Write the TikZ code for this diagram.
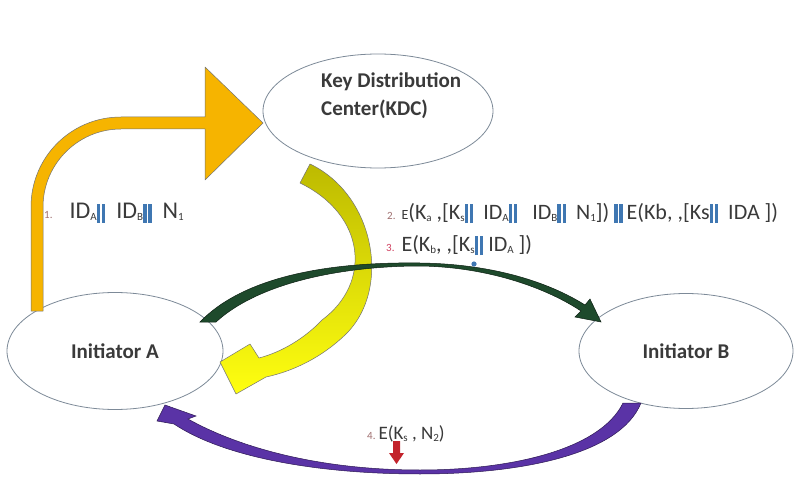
\documentclass[tikz,border=0pt]{standalone}
\usepackage{fontspec}
\setmainfont{Carlito}
\usetikzlibrary{shapes.geometric}
\definecolor{ellline}{HTML}{7D8A98}
\definecolor{orangefill}{HTML}{F6B400}
\definecolor{yeltop}{HTML}{BDBA00}
\definecolor{yelbot}{HTML}{FFFF10}
\definecolor{greenfill}{HTML}{1E4A2C}
\definecolor{purplefill}{HTML}{5A33A6}
\definecolor{redarrow}{HTML}{C3232B}
\definecolor{barblue}{HTML}{3F77B2}
\definecolor{txtgray}{HTML}{3A3A3A}
\definecolor{numcol}{HTML}{A07070}
\definecolor{numred}{HTML}{D04060}
\newcommand\vbars{\textcolor{barblue}{\rule[-4pt]{3.6pt}{19pt}\hspace{1.5pt}\rule[-4pt]{3.6pt}{19pt}}}
\newcommand\sbs[1]{\raisebox{-2pt}{\fontsize{11}{11}\selectfont #1}}
\newcommand\numsm[2]{{\fontsize{11}{11}\selectfont\textcolor{#1}{#2}}}
\tikzset{
  party/.style={ellipse, draw=ellline, line width=0.8pt, fill=white, inner sep=0pt},
  ptext/.style={font=\fontsize{21}{28}\selectfont\bfseries, text=txtgray},
  lbl/.style={font=\fontsize{22}{24}\selectfont, text=txtgray, inner sep=0pt, anchor=west},
  blockarrow/.style={draw=black!55, line width=0.5pt, line join=round}
}
\begin{document}
\begin{tikzpicture}[x=1pt,y=-1pt]
\useasboundingbox[fill=white] (0,0) rectangle (796,492);

% nodes
\node[party, minimum width=230pt, minimum height=114pt] (kdc) at (378,111) {};
\node[ptext, align=left, anchor=north west, inner sep=0pt] (kdctext) at (321,73) {Key Distribution\\Center(KDC)};
\node[party, minimum width=216pt, minimum height=117pt] (a) at (115,351) {};
\node[ptext] (atext) at (a.center) {Initiator A};
\node[party, minimum width=214pt, minimum height=115pt] (b) at (686,351) {};
\node[ptext] (btext) at (b.center) {Initiator B};

% 1: orange bent arrow A -> KDC
\filldraw[blockarrow, fill=orangefill]
  (31,311) -- (31,207) .. controls (31,157) and (71,117) .. (121,117) -- (205,117)
  -- (205,67) -- (263,123) -- (205,180) -- (205,129) -- (121,129)
  .. controls (78,129) and (43,164) .. (43,207) -- (43,311) -- cycle;

% 2: yellow curved arrow KDC -> A
\shadedraw[blockarrow, top color=yeltop, bottom color=yelbot]
  (310,164) .. controls (375,195) and (392,290) .. (345,335)
  .. controls (322,357) and (294,371) .. (266,377)
  -- (236,394) -- (220,362) -- (250,344) -- (259,358)
  .. controls (282,352) and (305,338) .. (322,320)
  .. controls (372,283) and (366,215) .. (300,183) -- cycle;

% 3: dark green arc A -> B
\filldraw[draw=black!60!greenfill, line width=0.5pt, fill=greenfill]
  (200,322) .. controls (250,270) and (350,262) .. (420,263)
  .. controls (495,264) and (550,283) .. (585,305)
  -- (590,299) -- (601,322) -- (575,317) -- (581,311)
  .. controls (548,289) and (490,267) .. (420,266)
  .. controls (350,266) and (262,280) .. (216,322) -- cycle;

% 4: purple arc B -> A
\filldraw[draw=black!50!purplefill, line width=0.5pt, fill=purplefill]
  (641,403) .. controls (620,455) and (520,474) .. (420,474)
  .. controls (320,474) and (225,458) .. (174,424)
  -- (157,421) -- (165,405) -- (196,416) -- (188,419)
  .. controls (240,448) and (320,470) .. (420,470)
  .. controls (510,470) and (600,450) .. (623,403) -- cycle;

% labels
\node[lbl, font=\fontsize{24}{26}\selectfont] (l1) at (44,213) {\numsm{numcol}{1.}\hspace{17pt}ID\sbs{A}\vbars\ \ ID\sbs{B}\vbars\ \ N\sbs{1}};
\node[lbl] (l2) at (387,213) {\numsm{numcol}{2.}\hspace{6pt}{\fontsize{14}{14}\selectfont E}(K\sbs{a} ,[K\sbs{s}\vbars\ \ ID\sbs{A}\vbars\ \ \ ID\sbs{B}\vbars\ \ N\sbs{1}]) \vbars\,E(Kb, ,[Ks\vbars\ \ IDA ])};
\node[lbl] (l3) at (386,245) {\numsm{numred}{3.}\hspace{7pt}E(K\sbs{b}, ,[K\sbs{s}\vbars\ ID\sbs{A} ])};
\fill[barblue] (474,264) circle (2.6pt);
\node[lbl, font=\fontsize{19}{21}\selectfont] (l4) at (367,434) {\numsm{numcol}{4.}\hspace{3pt}E(K\sbs{s} , N\sbs{2})};

% red down arrow
\fill[redarrow] (393,441) -- (400,441) -- (400,453) -- (404,453) -- (396.5,464) -- (389,453) -- (393,453) -- cycle;
\end{tikzpicture}
\end{document}
